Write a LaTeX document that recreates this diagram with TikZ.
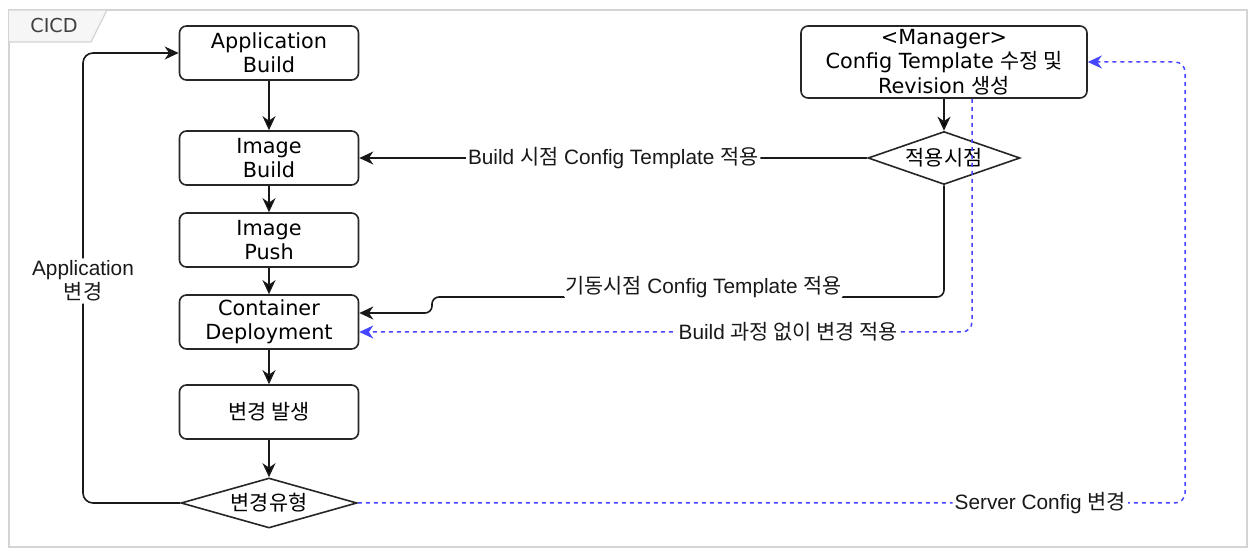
\documentclass[tikz,border=0pt]{standalone}
\usepackage{fontspec}
\setmainfont{DejaVu Sans}
\newfontfamily\arialfont{Liberation Sans}
\newfontfamily\krfont{Noto Sans CJK KR}
\newcommand{\hg}[1]{{\krfont #1}}
\usetikzlibrary{shapes.geometric,arrows.meta}
\definecolor{cfgblue}{RGB}{70,70,255}
\definecolor{framegray}{RGB}{212,212,212}

\begin{document}
\begin{tikzpicture}[x=0.5pt,y=-0.5pt,thick,
  >={Stealth[length=7pt,width=6.5pt,inset=2.2pt]},
  every node/.style={font=\fontsize{10.4pt}{12.2pt}\selectfont},
  stage/.style={rectangle,rounded corners=3.5pt,draw=black!85,fill=white,minimum width=89.5pt,minimum height=27pt,align=center,inner sep=0pt},
  choice/.style={diamond,draw=black!85,fill=white,inner sep=0pt,aspect=3.5},
  flow/.style={->,draw=black!90,line width=0.8pt,rounded corners=5pt},
  cfg/.style={->,draw=cfgblue,line width=0.75pt,dash pattern=on 2pt off 2pt,rounded corners=5pt},
  lbl/.style={fill=white,inner sep=1pt,align=center,text=black!90,font=\arialfont\fontsize{10.4pt}{12.2pt}\selectfont}]
  \useasboundingbox (0,0) rectangle (1252,549);

  % frame and tab
  \draw[framegray,line width=1.2pt] (9,10) rectangle (1247,547);
  \draw[framegray,fill=gray!7,line width=0.6pt] (9,10) -- (107,10) -- (91,42) -- (9,42);
  \node[text=black!75,font=\fontsize{9.6pt}{11pt}\selectfont] at (54,26) (tab) {CICD};

  % pipeline
  \node[stage] at (269,53) (appbuild) {Application\\Build};
  \node[stage] at (269,158) (imgbuild) {Image\\Build};
  \node[stage] at (269,240) (imgpush) {Image\\Push};
  \node[stage] at (269,322) (deploy) {Container\\Deployment};
  \node[stage] at (269,412) (change) {\hg{변경 발생}};
  \node[choice,minimum width=88pt,minimum height=25pt] at (269,503) (kind) {\hg{변경유형}};

  % manager side
  \node[stage,minimum width=143pt,minimum height=36pt] at (944,62) (manager) {<Manager>\\Config Template \hg{수정 및}\\Revision \hg{생성}};
  \node[choice,minimum width=76pt,minimum height=26.5pt] at (944,158) (when) {\hg{적용시점}};

  \path[flow]
  (appbuild) edge (imgbuild)
  (imgbuild) edge (imgpush)
  (imgpush) edge (deploy)
  (deploy) edge (change)
  (change) edge (kind)
  (manager) edge (when);

  \draw[flow] (kind.west) -| (83,281) node[lbl] (lblapp) {Application\\\hg{변경}} |- (appbuild.west);
  \draw[flow] (when.west) -- node[lbl] (lblbuild) {Build \hg{시점} Config Template \hg{적용}} (imgbuild.east);
  \draw[flow,rounded corners=3.5pt] (when.south) -- (944,297) -- node[lbl,pos=0.47,yshift=5pt] (lblstart) {\hg{기동시점} Config Template \hg{적용}} (432,297) -- (432,313) -- ([yshift=4.5pt]deploy.east);

  % config changes without build
  \draw[cfg] (manager.south -| 972,0) -- (972,332) -- node[lbl,pos=0.3] (lblnobuild) {Build \hg{과정 없이 변경 적용}} ([yshift=-5pt]deploy.east);
  \draw[cfg] (kind.east) -- node[lbl,pos=0.825] (lblserver) {Server Config \hg{변경}} (1185,503) |- (manager.east);
\end{tikzpicture}
\end{document}
